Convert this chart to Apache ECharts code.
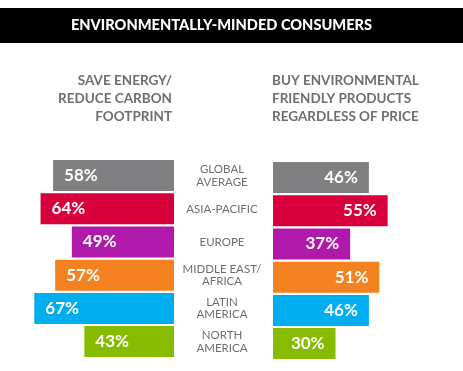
<!DOCTYPE html>
<html><head><meta charset="utf-8">
<script src="https://cdn.jsdelivr.net/npm/echarts@6/dist/echarts.min.js"></script>
<style>html,body{margin:0;padding:0;background:#fff}#c{width:463px;height:371px}</style>
</head><body><div id="c"></div>
<script>
const categories = ["GLOBAL\nAVERAGE","ASIA-PACIFIC","EUROPE","MIDDLE EAST/\nAFRICA","LATIN\nAMERICA","NORTH\nAMERICA"];
const saveEnergy = [58,64,49,57,67,43];
const buyFriendly = [46,55,37,51,46,30];
const leftHeader = "SAVE ENERGY/\nREDUCE CARBON\nFOOTPRINT";
const rightHeader = "BUY ENVIRONMENTAL\nFRIENDLY PRODUCTS\nREGARDLESS OF PRICE";
const chartTitle = "ENVIRONMENTALLY-MINDED CONSUMERS";
const colors = ["#808083","#d7003b","#b01aab","#f58220","#00aeef","#86bc00"];

const FONT = "Lato";
const chart = echarts.init(document.getElementById('c'), null, {renderer:'canvas'});
const mk = vals => vals.map((v,i)=>({value:v,itemStyle:{color:colors[i]}}));
const labelStyle = {color:'#fff', fontFamily:FONT, fontSize:17, fontWeight:'bold'};
chart.setOption({
  animation:false,
  graphic:[
    {type:'rect', shape:{x:0,y:8,width:463,height:35}, style:{fill:'#000'}},
    {type:'text', x:221.5, y:25.5, style:{text:chartTitle, fill:'#fff', font:'900 14.6px '+FONT, textAlign:'center', textVerticalAlign:'middle'}},
    {type:'text', x:172, y:71, style:{text:leftHeader, fill:'#6d6e71', font:'bold 13.5px '+FONT, textAlign:'right', textVerticalAlign:'top', lineHeight:18.3}},
    {type:'text', x:272, y:71, style:{text:rightHeader, fill:'#6d6e71', font:'bold 13.5px '+FONT, textAlign:'left', textVerticalAlign:'top', lineHeight:18.3}}
  ],
  grid:[
    {left:7.2, width:166.8, top:159, height:199.2},
    {left:273, width:166.8, top:161, height:199.2}
  ],
  xAxis:[
    {gridIndex:0, type:'value', min:0, max:80, inverse:true, show:false},
    {gridIndex:1, type:'value', min:0, max:80, show:false}
  ],
  yAxis:[
    {gridIndex:0, type:'category', data:categories, inverse:true, position:'right',
     axisLine:{show:false}, axisTick:{show:false},
     axisLabel:{margin:48, align:'center', color:'#6d6e71', fontFamily:FONT, fontSize:11.5, lineHeight:12.5}},
    {gridIndex:1, type:'category', data:categories, inverse:true,
     axisLine:{show:false}, axisTick:{show:false}, axisLabel:{show:false}}
  ],
  series:[
    {type:'bar', xAxisIndex:0, yAxisIndex:0, data:mk(saveEnergy), barCategoryGap:'6.5%',
     label:{show:true, position:'insideLeft', distance:11, formatter:'{c}%', ...labelStyle}},
    {type:'bar', xAxisIndex:1, yAxisIndex:1, data:mk(buyFriendly), barCategoryGap:'6.5%',
     label:{show:true, position:'insideRight', distance:11, formatter:'{c}%', ...labelStyle}}
  ]
});
</script></body></html>
